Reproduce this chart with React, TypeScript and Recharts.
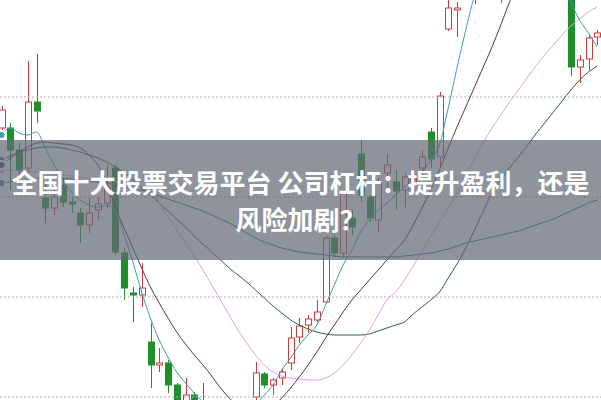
import { ComposedChart, Bar, Line, XAxis, YAxis, ReferenceLine } from "recharts";

// daily candles (price), left to right
const opens = [12.69, 12.69, 12.47, 12.29, 12.95, 11.99, 11.89, 12.12, 11.95, 11.84, 11.72, 11.87, 11.94, 12.29, 11.44, 11.04, 11.02, 10.55, 10.32, 10.34, 10.12, 9.75, 10.02, 9.92, 9.72, 9.55, 9.42, 9.5, 9.6, 10.0, 10.23, 10.12, 10.19, 10.34, 10.6, 10.72, 10.77, 10.95, 11.59, 11.44, 11.79, 12.43, 12.0, 11.77, 12.24, 12.15, 12.07, 12.12, 12.29, 12.65, 12.4, 13.68, 13.87, 14.0, 14.3, 14.1, 14.35, 14.2, 14.4, 14.6, 14.8, 14.7, 14.9, 14.85, 14.95, 14.2, 13.3, 13.38, 13.6];
const highs = [12.91, 12.74, 12.54, 13.36, 13.43, 12.14, 12.07, 12.19, 12.0, 11.89, 11.99, 12.0, 12.32, 12.32, 11.49, 11.1, 11.34, 10.74, 10.49, 10.37, 10.14, 10.19, 10.05, 10.14, 9.85, 9.7, 9.65, 9.8, 9.9, 10.35, 10.25, 10.19, 10.29, 10.7, 10.79, 10.82, 10.97, 11.61, 11.62, 12.07, 11.87, 12.57, 12.02, 12.19, 12.43, 12.27, 12.24, 12.28, 12.47, 12.69, 13.05, 14.05, 13.95, 14.3, 14.4, 14.45, 14.6, 14.5, 14.7, 14.9, 14.95, 15.0, 15.05, 15.1, 15.1, 14.3, 13.42, 13.62, 13.67];
const lows = [12.66, 12.07, 12.12, 12.25, 12.74, 11.74, 11.82, 11.9, 11.84, 11.54, 11.64, 11.77, 11.89, 11.42, 10.97, 10.75, 10.9, 10.09, 10.25, 10.04, 9.75, 9.7, 9.7, 9.6, 9.45, 9.3, 9.35, 9.42, 9.55, 9.9, 10.09, 10.02, 10.12, 10.27, 10.54, 10.64, 10.75, 10.93, 11.4, 11.4, 11.62, 11.95, 11.75, 11.65, 12.09, 11.87, 11.9, 12.05, 12.22, 12.29, 12.29, 13.66, 13.6, 13.98, 13.93, 14.05, 14.25, 13.94, 14.3, 14.5, 14.6, 14.6, 14.75, 14.7, 14.7, 13.21, 13.14, 13.27, 13.52];
const closes = [12.87, 12.47, 12.27, 12.95, 12.86, 11.89, 12.0, 11.95, 11.93, 11.72, 11.84, 11.93, 12.1, 11.45, 11.09, 11.02, 11.09, 10.32, 10.34, 10.12, 9.85, 10.02, 9.8, 9.7, 9.55, 9.4, 9.5, 9.6, 9.7, 10.24, 10.12, 10.17, 10.25, 10.59, 10.71, 10.78, 10.85, 11.59, 11.44, 12.04, 11.7, 12.02, 11.79, 12.14, 12.32, 12.06, 12.2, 12.22, 12.4, 12.38, 13.01, 13.89, 13.89, 14.2, 14.1, 14.35, 14.5, 14.4, 14.6, 14.8, 14.7, 14.9, 14.85, 14.95, 14.8, 13.3, 13.37, 13.59, 13.64];

// moving averages
const ma5 = [12.62, 12.69, 12.64, 12.62, 12.65, 12.49, 12.32, 12.17, 12.05, 11.97, 11.92, 11.9, 11.92, 11.87, 11.62, 11.35, 11.05, 10.79, 10.57, 10.4, 10.25, 10.14, 10.04, 9.95, 9.87, 9.79, 9.75, 9.77, 9.83, 9.92, 10.02, 10.12, 10.27, 10.39, 10.52, 10.62, 10.72, 10.92, 11.12, 11.32, 11.47, 11.65, 11.77, 11.87, 11.94, 12.02, 12.1, 12.17, 12.25, 12.37, 12.52, 12.89, 13.29, 13.67, 14.02, 14.32, 14.57, 14.77, 14.92, 15.02, 15.07, 15.02, 14.87, 14.57, 14.22, 13.95, 13.77, 13.64, 13.5];
const ma10 = [12.32, 12.39, 12.45, 12.5, 12.54, 12.55, 12.54, 12.53, 12.52, 12.49, 12.42, 12.32, 12.15, 11.9, 11.69, 11.49, 11.29, 11.1, 10.94, 10.79, 10.65, 10.53, 10.42, 10.32, 10.21, 10.09, 9.99, 9.91, 9.85, 9.83, 9.85, 9.91, 9.99, 10.09, 10.2, 10.32, 10.45, 10.59, 10.72, 10.85, 10.97, 11.07, 11.17, 11.27, 11.37, 11.47, 11.57, 11.72, 11.89, 12.07, 12.27, 12.49, 12.7, 12.9, 13.1, 13.3, 13.5, 13.72, 13.95, 14.15, 14.3, 14.4, 14.45, 14.42, 14.37, 14.32, 14.27, 14.22, 14.17];
const ma20 = [12.27, 12.27, 12.26, 12.25, 12.25, 12.24, 12.23, 12.22, 12.21, 12.2, 12.19, 12.18, 12.17, 12.16, 12.14, 12.12, 12.1, 12.07, 11.94, 11.8, 11.67, 11.54, 11.41, 11.27, 11.12, 10.97, 10.82, 10.67, 10.54, 10.42, 10.32, 10.25, 10.21, 10.19, 10.18, 10.17, 10.17, 10.19, 10.24, 10.32, 10.42, 10.54, 10.67, 10.82, 10.97, 11.05, 11.17, 11.31, 11.46, 11.61, 11.75, 11.89, 12.04, 12.22, 12.39, 12.55, 12.69, 12.82, 12.95, 13.07, 13.19, 13.31, 13.42, 13.52, 13.62, 13.71, 13.78, 13.85, 13.9];
const ma30 = [12.37, 12.41, 12.45, 12.47, 12.49, 12.5, 12.5, 12.49, 12.47, 12.45, 12.42, 12.39, 12.35, 12.3, 12.24, 12.17, 12.09, 12.02, 11.94, 11.86, 11.78, 11.7, 11.61, 11.53, 11.45, 11.37, 11.29, 11.22, 11.15, 11.07, 10.99, 10.91, 10.84, 10.77, 10.72, 10.68, 10.65, 10.63, 10.62, 10.62, 10.62, 10.62, 10.63, 10.66, 10.69, 10.72, 10.75, 10.83, 10.9, 10.97, 11.05, 11.19, 11.33, 11.49, 11.67, 11.86, 12.04, 12.17, 12.29, 12.4, 12.51, 12.63, 12.74, 12.85, 12.96, 13.07, 13.17, 13.25, 13.31];
const ma60 = [12.14, 12.15, 12.16, 12.17, 12.18, 12.19, 12.19, 12.19, 12.18, 12.17, 12.16, 12.15, 12.14, 12.12, 12.1, 12.08, 12.07, 12.04, 12.01, 11.98, 11.95, 11.92, 11.89, 11.86, 11.82, 11.78, 11.74, 11.69, 11.64, 11.59, 11.55, 11.52, 11.49, 11.47, 11.45, 11.44, 11.43, 11.42, 11.41, 11.4, 11.4, 11.4, 11.4, 11.4, 11.4, 11.4, 11.41, 11.42, 11.43, 11.44, 11.46, 11.48, 11.51, 11.54, 11.56, 11.58, 11.6, 11.62, 11.64, 11.66, 11.69, 11.72, 11.75, 11.78, 11.82, 11.86, 11.9, 11.94, 11.97];

const gridPrices = [10, 11, 12, 13];

const RED = "#cc3b3f";
const GREEN = "#1f8f2c";

const data = closes.map((c, i) => ({
  i,
  open: opens[i],
  high: highs[i],
  low: lows[i],
  close: c,
  ma5: ma5[i],
  ma10: ma10[i],
  ma20: ma20[i],
  ma30: ma30[i],
  ma60: ma60[i],
}));

const Candle = (props: any) => {
  const { x, y, width, height, payload } = props;
  if (x == null || y == null || !payload) return null;
  const { open, close, high, low } = payload;
  const up = close >= open;
  const color = up ? RED : GREEN;
  const h = Math.abs(height);
  const top0 = height < 0 ? y + height : y;
  const k = high - low === 0 ? 0 : h / (high - low);
  const py = (v: number) => top0 + (high - v) * k;
  const bTop = py(Math.max(open, close));
  const bBot = py(Math.min(open, close));
  const cx = Math.round(x + width / 2) + 0.5;
  const bw = 6;
  return (
    <g>
      <line x1={cx} x2={cx} y1={top0} y2={top0 + h} stroke={color} strokeWidth={1} />
      <rect
        x={cx - bw / 2}
        y={bTop}
        width={bw}
        height={Math.max(1, bBot - bTop)}
        fill={up ? "#ffffff" : color}
        stroke={color}
        strokeWidth={1}
      />
    </g>
  );
};

const App = () => {
  return (
    <div style={{ position: "absolute", left: 0, top: 0, width: 601, height: 400, background: "#fff", overflow: "hidden" }}>
      <ComposedChart width={601} height={400} data={data} margin={{ top: 0, right: 0, left: 0, bottom: 0 }}>
        <XAxis dataKey="i" type="number" domain={[-0.17, 68.44]} hide allowDataOverflow />
        <YAxis type="number" domain={[9.97, 13.97]} hide allowDataOverflow />
        {gridPrices.map((p) => (
          <ReferenceLine key={p} y={p} stroke="#b0b0b0" strokeDasharray="2 2" />
        ))}
        <Line dataKey="ma60" type="monotone" stroke="#3d6d86" strokeWidth={1} dot={false} isAnimationActive={false} />
        <Line dataKey="ma30" type="monotone" stroke="#2f6331" strokeWidth={1} dot={false} isAnimationActive={false} />
        <Line dataKey="ma20" type="monotone" stroke="#e2a0e6" strokeWidth={1} dot={false} isAnimationActive={false} />
        <Line dataKey="ma10" type="monotone" stroke="#5e2f60" strokeWidth={1} dot={false} isAnimationActive={false} />
        <Line dataKey="ma5" type="monotone" stroke="#3aa2ad" strokeWidth={1} dot={false} isAnimationActive={false} />
        <Bar dataKey={(d: any) => [d.low, d.high]} barSize={7} shape={<Candle />} isAnimationActive={false} />
      </ComposedChart>
      <div
        style={{
          position: "absolute",
          left: 0,
          top: 140,
          width: 601,
          height: 120,
          background: "rgba(98,106,118,0.72)",
          color: "#fff",
          fontFamily: "'Noto Sans CJK SC', 'Noto Sans', sans-serif",
          fontWeight: 700,
          fontSize: 26,
          lineHeight: "37px",
          textAlign: "center",
          whiteSpace: "nowrap",
          paddingTop: 23,
          boxSizing: "border-box",
        }}
      >
        <div>全国十大股票交易平台 公司杠杆：提升盈利，还是</div>
        <div>风险加剧？</div>
      </div>
    </div>
  );
};

export default App;
